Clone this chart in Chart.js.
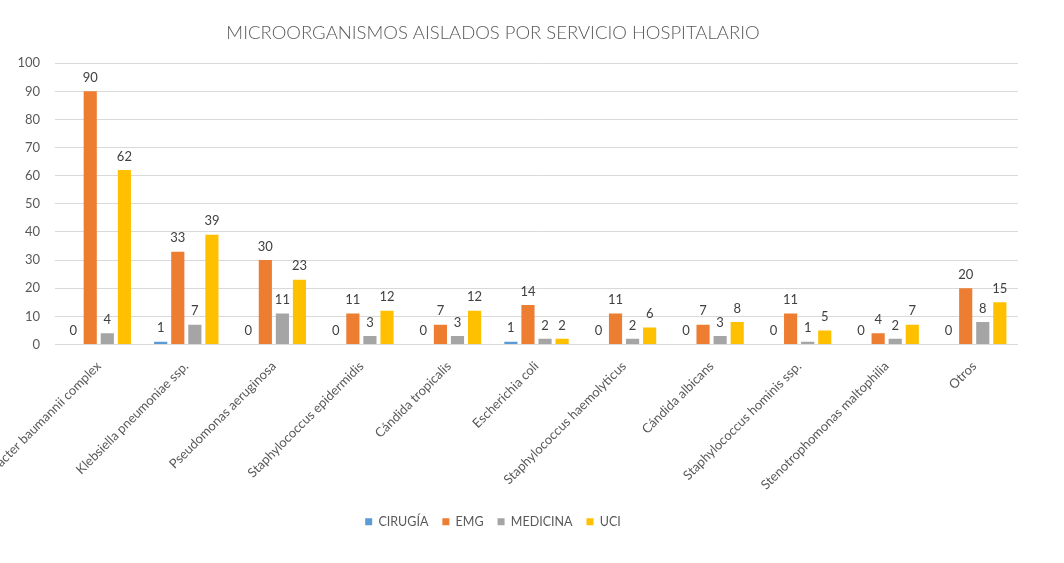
<!DOCTYPE html>
<html>
<head>
<meta charset="utf-8">
<script src="https://cdn.jsdelivr.net/npm/chart.js@4.4.1/dist/chart.umd.min.js"></script>
<style>
  html, body { margin: 0; padding: 0; background: #fff; overflow: hidden; }
  #wrap { position: absolute; left: -32px; top: 0; width: 1050px; height: 563px; }
</style>
</head>
<body>
<div id="wrap"><canvas id="chart" width="1050" height="563"></canvas></div>
<script>
// Microorganismos por servicio
const categories = [
    'Acinetobacter baumannii complex',
    'Klebsiella pneumoniae ssp.',
    'Pseudomonas aeruginosa',
    'Staphylococcus epidermidis',
    'Cándida tropicalis',
    'Escherichia coli',
    'Staphylococcus haemolyticus',
    'Cándida albicans',
    'Staphylococcus hominis ssp.',
    'Stenotrophomonas maltophilia',
    'Otros'
];
const cirugia  = [0, 1, 0, 0, 0, 1, 0, 0, 0, 0, 0];
const emg      = [90, 33, 30, 11, 7, 14, 11, 7, 11, 4, 20];
const medicina = [4, 7, 11, 3, 3, 2, 2, 3, 1, 2, 8];
const uci      = [62, 39, 23, 12, 12, 2, 6, 8, 5, 7, 15];
const yTicks   = { min: 0, max: 100, step: 10 };

const FONT = 'Lato, "Open Sans", sans-serif';

// etiquetas de valor encima de cada barra
const valueLabels = {
    id: 'valueLabels',
    afterDatasetsDraw(chart) {
        const ctx = chart.ctx;
        ctx.save();
        ctx.font = '13px ' + FONT;
        ctx.fillStyle = '#404040';
        ctx.textAlign = 'center';
        ctx.textBaseline = 'bottom';
        chart.data.datasets.forEach((ds, i) => {
            chart.getDatasetMeta(i).data.forEach((bar, j) => {
                ctx.fillText(ds.data[j], bar.x, bar.y - 7);
            });
        });
        ctx.restore();
    }
};

const ds = (label, data, color) => ({
    label, data, backgroundColor: color, borderWidth: 0,
    categoryPercentage: 0.78, barPercentage: 0.77
});

new Chart(document.getElementById('chart').getContext('2d'), {
    type: 'bar',
    data: {
        labels: categories,
        datasets: [
            ds('CIRUGÍA', cirugia, '#5B9BD5'),
            ds('EMG', emg, '#ED7D31'),
            ds('MEDICINA', medicina, '#A5A5A5'),
            ds('UCI', uci, '#FFC000')
        ]
    },
    options: {
        responsive: false,
        animation: false,
        devicePixelRatio: 1,
        layout: { padding: { left: 0, right: 0, top: 0, bottom: 25 } },
        plugins: {
            title: {
                display: true,
                text: 'MICROORGANISMOS AISLADOS POR SERVICIO HOSPITALARIO',
                color: '#595959',
                font: { family: FONT, size: 18.5, weight: '300', lineHeight: 1.2 },
                padding: { top: 22, bottom: 19 }
            },
            legend: {
                position: 'bottom',
                labels: {
                    boxWidth: 7, boxHeight: 7, padding: 14,
                    color: '#595959',
                    font: { family: FONT, size: 12.5 }
                }
            },
            tooltip: { enabled: false }
        },
        scales: {
            x: {
                grid: { display: false },
                border: { display: true, color: '#d9d9d9', width: 1 },
                ticks: {
                    autoSkip: false, minRotation: 45, maxRotation: 45,
                    color: '#595959', padding: 6,
                    font: { family: FONT, size: 13 }
                },
                afterFit(scale) { scale.height = 157; scale.paddingLeft = 0; scale.paddingRight = 0; }
            },
            y: {
                min: yTicks.min, max: yTicks.max,
                grid: { color: '#d9d9d9', drawTicks: false },
                border: { display: false },
                ticks: {
                    stepSize: yTicks.step, padding: 15,
                    color: '#595959',
                    font: { family: FONT, size: 13 }
                },
                afterFit(scale) { scale.width = 87; }
            }
        }
    },
    plugins: [valueLabels]
});
</script>
</body>
</html>
